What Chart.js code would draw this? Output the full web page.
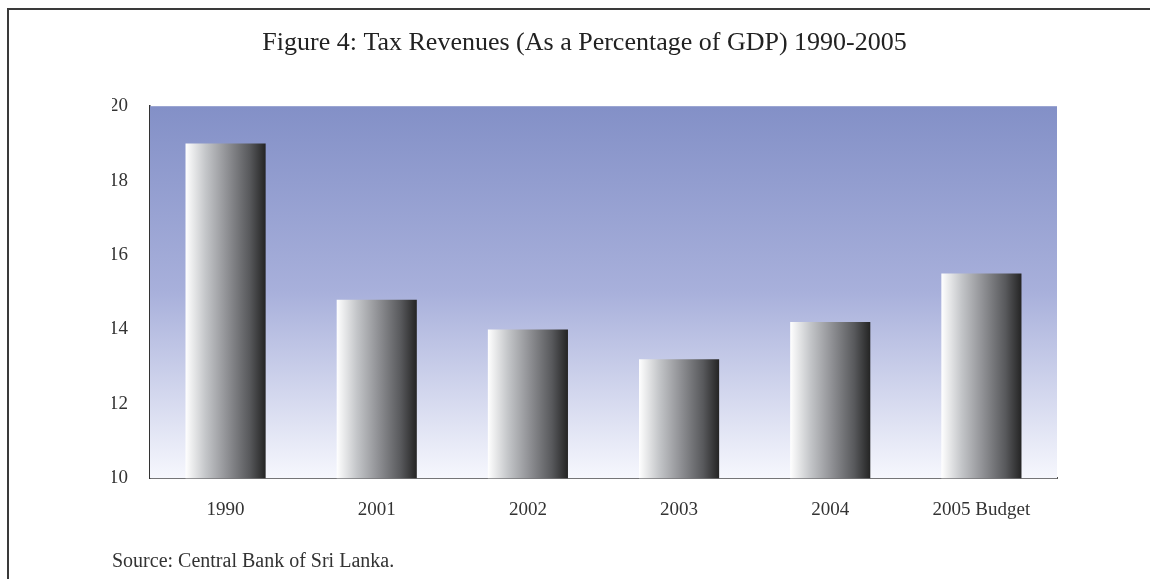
<!DOCTYPE html>
<html>
<head>
<meta charset="utf-8">
<title>Tax Revenues</title>
<script src="https://cdn.jsdelivr.net/npm/chart.js@4"></script>
<style>
  html, body { margin: 0; padding: 0; background: #fff; }
  #wrap { width: 1150px; height: 579px; }
</style>
</head>
<body>
<div id="wrap"><canvas id="chart" width="1150" height="579"></canvas></div>
<script>
const years = ["1990", "2001", "2002", "2003", "2004", "2005 Budget"];
const taxShare = [19.0, 14.8, 14.0, 13.2, 14.2, 15.5];
const yTicks = [10, 12, 14, 16, 18, 20];

const serif = "'Liberation Serif', 'DejaVu Serif', serif";
const barPct = 0.53;

// shaded bars: light on the left, dark on the right
function barFill(ctx) {
  const chart = ctx.chart;
  const area = chart.chartArea;
  if (!area) return '#999';
  const x = chart.scales.x.getPixelForValue(ctx.dataIndex);
  const half = (area.right - area.left) / years.length * barPct / 2;
  const g = chart.ctx.createLinearGradient(x - half, 0, x + half, 0);
  g.addColorStop(0, '#ffffff');
  g.addColorStop(0.25, '#c4c6c9');
  g.addColorStop(0.5, '#939498');
  g.addColorStop(0.8, '#58595c');
  g.addColorStop(1, '#242424');
  return g;
}

// frame lines plus the blue plot background
const decor = {
  id: 'decor',
  beforeDraw(chart) {
    const c = chart.ctx;
    c.save();
    c.strokeStyle = '#3a3a3a';
    c.lineWidth = 2;
    c.beginPath();
    c.moveTo(8, 579);
    c.lineTo(8, 9);
    c.lineTo(1150, 9);
    c.stroke();
    c.restore();
  },
  beforeDatasetsDraw(chart) {
    const a = chart.chartArea;
    const c = chart.ctx;
    const g = c.createLinearGradient(0, a.top, 0, a.bottom);
    g.addColorStop(0, '#8390c7');
    g.addColorStop(0.5, '#a8b0db');
    g.addColorStop(1, '#f6f7fd');
    c.save();
    c.fillStyle = g;
    c.fillRect(a.left, a.top, a.right - a.left, a.bottom - a.top);
    c.restore();
  }
};

new Chart("chart", {
  type: "bar",
  data: {
    labels: years,
    datasets: [{
      data: taxShare,
      backgroundColor: barFill,
      borderWidth: 0,
      barPercentage: barPct,
      categoryPercentage: 1
    }]
  },
  options: {
    responsive: false,
    animation: false,
    layout: { padding: { left: 112, right: 93, top: 0, bottom: 5 } },
    plugins: {
      legend: { display: false },
      tooltip: { enabled: false },
      title: {
        display: true,
        text: "Figure 4: Tax Revenues (As a Percentage of GDP) 1990-2005",
        color: '#222',
        font: { family: serif, size: 26, weight: 'normal' },
        padding: { top: 28, bottom: 47 }
      },
      subtitle: {
        display: true,
        position: 'bottom',
        align: 'start',
        text: "Source: Central Bank of Sri Lanka.",
        color: '#333',
        font: { family: serif, size: 20 },
        padding: { top: 9, bottom: 0 }
      }
    },
    scales: {
      x: {
        grid: { display: false, drawTicks: false },
        border: { display: true, color: '#555', width: 2 },
        ticks: {
          color: '#333',
          padding: 20,
          font: { family: serif, size: 19 }
        }
      },
      y: {
        min: 10,
        max: 20,
        afterFit(scale) { scale.width = 38; },
        afterBuildTicks(scale) { scale.ticks = yTicks.map(v => ({ value: v })); },
        grid: { display: false, drawTicks: false },
        border: { display: true, color: '#333', width: 1.5 },
        ticks: {
          color: '#333',
          padding: 22,
          font: { family: serif, size: 19 }
        }
      }
    }
  },
  plugins: [decor]
});
</script>
</body>
</html>
